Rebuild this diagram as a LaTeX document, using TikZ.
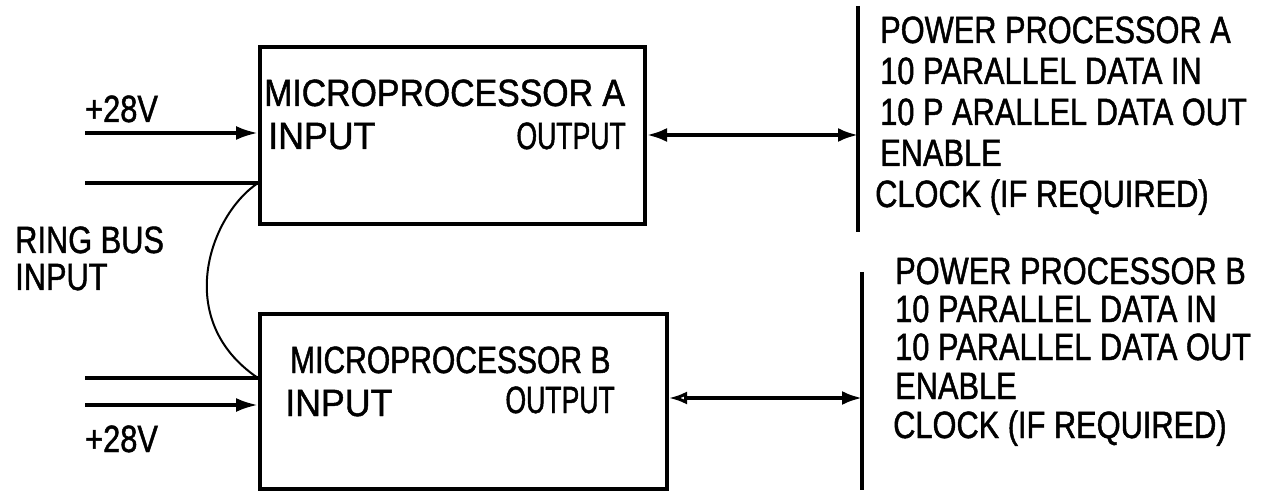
\documentclass[tikz,border=0pt]{standalone}
\usepackage{fontspec}
\setmainfont{Liberation Sans}[FakeStretch=0.81,FakeBold=1.2]
\usetikzlibrary{arrows.meta}
\begin{document}
\begin{tikzpicture}[x=1pt,y=-1pt,
  lbl/.style={inner sep=0pt, anchor=base west, font=\fontsize{38}{41}\selectfont},
  lblr/.style={lbl, anchor=base east},
  stretch/.style={font=\fontsize{38}{41}\selectfont\addfontfeature{FakeStretch=#1}},
  block/.style={draw, line width=4pt, inner sep=0pt, anchor=north west},
  wire/.style={line width=3.5pt},
  bus/.style={line width=4pt},
  tip/.style={-{Latex[length=22pt,width=14pt]}},
  both/.style={{Latex[length=20pt,width=14pt]}-{Latex[length=20pt,width=14pt]}},
  bothb/.style={{Latex[open,length=18pt,width=13pt,line width=3pt]}-{Latex[length=20pt,width=14pt]}}]
\useasboundingbox (0,0) rectangle (1274,494);

% processor blocks
\node[block, minimum width=385pt, minimum height=177pt] (ma) at (258,45) {};
\node[block, minimum width=407pt, minimum height=175pt] (mb) at (258,312) {};

\node[lbl, stretch=0.89] (maname) at (264,106) {MICROPROCESSOR A};
\node[lbl, stretch=0.94] (main) at (268,149) {INPUT};
\node[lblr, stretch=0.7] (maout) at (626,149) {OUTPUT};
\node[lbl, stretch=0.79] (mbname) at (290,373) {MICROPROCESSOR B};
\node[lbl, stretch=0.94] (mbin) at (285,416) {INPUT};
\node[lblr, stretch=0.7] (mbout) at (615,413) {OUTPUT};

% inputs on the left
\node[lbl] (va) at (85,122) {+28V};
\node[lbl] (ring1) at (15,253) {RING BUS};
\node[lbl] (ring2) at (15,290) {INPUT};
\node[lbl] (vb) at (85,452) {+28V};

\coordinate (pa) at (85,133);
\coordinate (ra) at (85,183);
\coordinate (rb) at (85,378);
\coordinate (pb) at (85,405);
\draw[wire, tip] (pa) -- (ma.west |- pa);
\draw[wire] (ra) -- (ma.west |- ra);
\draw[wire] (rb) -- (mb.west |- rb);
\draw[wire, tip] (pb) -- (mb.west |- pb);
% ring bus link between the two inputs
\draw[line width=2pt] (ma.west |- ra) .. controls (210,215) and (172,320) .. (mb.west |- rb);

% interface buses to the power processors
\coordinate (busAt) at (858,6);
\coordinate (busAb) at (858,232);
\coordinate (busBt) at (862,272);
\coordinate (busBb) at (862,490);
\draw[bus] (busAt) -- (busAb);
\draw[bus] (busBt) -- (busBb);
\coordinate (oa) at (858,135);
\coordinate (ob) at (862,398);
\draw[wire, both] (ma.east |- oa) -- (oa);
\draw[wire, bothb] (mb.east |- ob) -- (ob);

% power processor A signals
\node[lbl] (pa1) at (880,43) {POWER PROCESSOR A};
\node[lbl] (pa2) at (880,84) {10 PARALLEL DATA IN};
\node[lbl] (pa3) at (880,125) {10 P ARALLEL DATA OUT};
\node[lbl] (pa4) at (880,166) {ENABLE};
\node[lbl] (pa5) at (875,207) {CLOCK (IF REQUIRED)};

% power processor B signals
\node[lbl] (pb1) at (895,284) {POWER PROCESSOR B};
\node[lbl] (pb2) at (895,322) {10 PARALLEL DATA IN};
\node[lbl] (pb3) at (895,360) {10 PARALLEL DATA OUT};
\node[lbl] (pb4) at (895,399) {ENABLE};
\node[lbl] (pb5) at (893,438) {CLOCK (IF REQUIRED)};
\end{tikzpicture}
\end{document}
